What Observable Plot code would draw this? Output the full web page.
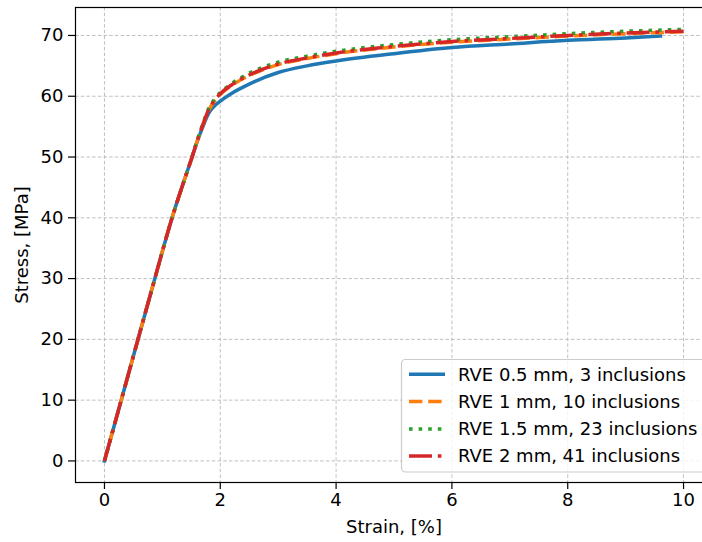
<!DOCTYPE html>
<html>
<head>
<meta charset="utf-8">
<script src="https://cdn.jsdelivr.net/npm/d3@7"></script>
<script src="https://cdn.jsdelivr.net/npm/@observablehq/plot@0.6"></script>
<style>
  html, body { margin: 0; padding: 0; background: white; overflow: hidden; }
  #chart { position: relative; width: 702px; height: 542px; }
</style>
</head>
<body>
<div id="chart"></div>
<script>
// ---- Data ----
const strainShort = [0, 0.4, 0.8, 1.2, 1.4, 1.5, 1.6, 1.7, 1.8, 1.9, 2.0, 2.2, 2.5, 3.0, 3.5, 4.0, 5.0, 6.0, 7.0, 8.0, 9.0, 9.6];
const strainLong  = [0, 0.4, 0.8, 1.2, 1.4, 1.5, 1.6, 1.7, 1.8, 1.9, 2.0, 2.2, 2.5, 3.0, 3.5, 4.0, 5.0, 6.0, 7.0, 8.0, 9.0, 10.0];

const stressRve05 = [0, 13.8, 27.6, 41.0, 46.8, 49.6, 52.5, 55.0, 57.2, 58.4, 59.2, 60.5, 62.0, 63.9, 65.0, 65.8, 67.0, 68.0, 68.6, 69.2, 69.6, 69.9];
const stressRve1  = [0, 13.8, 27.6, 41.0, 46.8, 49.6, 52.6, 55.3, 57.7, 59.2, 60.3, 61.8, 63.4, 65.2, 66.2, 67.0, 68.1, 68.9, 69.4, 69.9, 70.3, 70.6];
const stressRve15 = [0, 13.8, 27.6, 41.0, 46.8, 49.7, 52.7, 55.5, 58.0, 59.5, 60.6, 62.1, 63.8, 65.6, 66.6, 67.4, 68.5, 69.3, 69.8, 70.3, 70.7, 71.0];
const stressRve2  = [0, 13.8, 27.6, 41.0, 46.8, 49.6, 52.6, 55.3, 57.8, 59.3, 60.4, 61.9, 63.5, 65.3, 66.3, 67.1, 68.2, 69.0, 69.5, 70.0, 70.4, 70.7];

const seriesLabels = ["RVE 0.5 mm, 3 inclusions", "RVE 1 mm, 10 inclusions", "RVE 1.5 mm, 23 inclusions", "RVE 2 mm, 41 inclusions"];
const seriesColors = ["#1f77b4", "#ff7f0e", "#2ca02c", "#d62728"];
const seriesDashes = [null, "13.4,5.8", "3.6,6", "23,5.8,3.6,5.8"];

const xTicks = [0, 2, 4, 6, 8, 10];
const yTicks = [0, 10, 20, 30, 40, 50, 60, 70];

// ---- build rows ----
const seriesData = [
  strainShort.map((x, i) => ({x, y: stressRve05[i]})),
  strainLong.map((x, i) => ({x, y: stressRve1[i]})),
  strainLong.map((x, i) => ({x, y: stressRve15[i]})),
  strainLong.map((x, i) => ({x, y: stressRve2[i]}))
];

const gridStyle = {stroke: "#b0b0b0", strokeOpacity: 1, strokeWidth: 0.8, strokeDasharray: "3.5,2.2"};

const plot = Plot.plot({
  width: 702,
  height: 542,
  marginLeft: 75,
  marginTop: 7,
  marginBottom: 60,
  marginRight: -10,
  style: {fontFamily: "DejaVu Sans", fontSize: "18px", color: "black", background: "white", overflow: "visible"},
  x: {domain: [-0.5, 10.5]},
  y: {domain: [-3.55, 74.6]},
  marks: [
    Plot.gridX(xTicks, gridStyle),
    Plot.gridY(yTicks, gridStyle),
    ...seriesData.map((d, i) => Plot.line(d, {
      x: "x", y: "y",
      stroke: seriesColors[i],
      strokeWidth: 3.5,
      strokeDasharray: seriesDashes[i] ?? undefined,
      strokeLinecap: seriesDashes[i] ? "butt" : "square",
      curve: "monotone-x"
    })),
    Plot.frame({stroke: "black", strokeWidth: 1.2}),
    Plot.axisX(xTicks, {tickSize: 7, tickPadding: 4, strokeWidth: 1.2, label: "Strain, [%]", labelAnchor: "center", labelArrow: "none", labelOffset: 50}),
    Plot.axisY(yTicks, {tickSize: 7, tickPadding: 5, strokeWidth: 1.2, label: "Stress, [MPa]", labelAnchor: "center", labelArrow: "none", labelOffset: 60})
  ]
});

document.getElementById("chart").appendChild(plot);

// ---- legend (lower right, matplotlib style) ----
const svg = d3.select(plot);
const lg = svg.append("g").attr("font-family", "DejaVu Sans").attr("font-size", 18).attr("text-anchor", "start");
lg.append("rect")
  .attr("x", 401.5).attr("y", 359.5).attr("width", 320).attr("height", 112.5)
  .attr("rx", 4).attr("fill", "white").attr("fill-opacity", 0.8)
  .attr("stroke", "#cccccc").attr("stroke-width", 1.2);
const rowY = [374.3, 401.6, 428.9, 456.0];
seriesLabels.forEach((lab, i) => {
  lg.append("line")
    .attr("x1", 409).attr("x2", 445).attr("y1", rowY[i]).attr("y2", rowY[i])
    .attr("stroke", seriesColors[i]).attr("stroke-width", 3.5)
    .attr("stroke-dasharray", seriesDashes[i])
    .attr("stroke-linecap", "butt");
  lg.append("text")
    .attr("x", 458).attr("y", rowY[i]).attr("dy", "0.35em")
    .attr("text-anchor", "start")
    .attr("fill", "black")
    .text(lab);
});
</script>
</body>
</html>
